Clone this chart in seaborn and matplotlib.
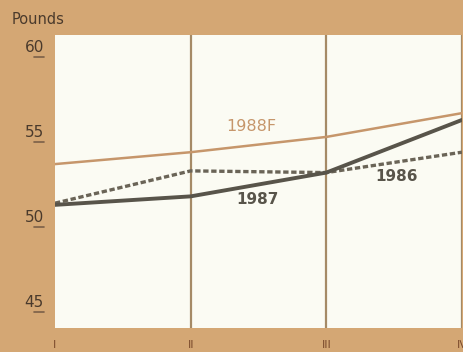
import matplotlib
matplotlib.use("Agg")
import matplotlib.pyplot as plt
import matplotlib.transforms as mtransforms
import seaborn as sns
import pandas as pd

# Quarterly values, pounds
quarters = ["I", "II", "III", "IV"]
y1986 = [51.4, 53.3, 53.2, 54.4]
y1987 = [51.3, 51.8, 53.2, 56.3]
y1988f = [53.7, 54.4, 55.3, 56.7]
y_ticks = [45, 50, 55, 60]

rows = []
for name, vals in (("1986", y1986), ("1987", y1987), ("1988F", y1988f)):
    for i, (q, v) in enumerate(zip(quarters, vals)):
        rows.append({"series": name, "x": i, "quarter": q, "value": v})
df = pd.DataFrame(rows)

sns.set_theme(style="white")
plt.rcParams["font.family"] = ["DejaVu Sans"]

bg = "#D4A774"
fig = plt.figure(figsize=(4.63, 3.52), dpi=100, facecolor=bg)
ax = fig.add_axes([55 / 463, 24 / 352, 407 / 463, 293 / 352])
ax.set_facecolor("#FBFBF3")

palette = {"1986": "#6A6457", "1987": "#58544A", "1988F": "#C6966B"}
sns.lineplot(data=df[df.series == "1988F"], x="x", y="value", ax=ax,
             color=palette["1988F"], linewidth=1.8, legend=False)
sns.lineplot(data=df[df.series == "1986"], x="x", y="value", ax=ax,
             color=palette["1986"], linewidth=2.4, linestyle=(0, (1.6, 0.8)),
             legend=False)
sns.lineplot(data=df[df.series == "1987"], x="x", y="value", ax=ax,
             color=palette["1987"], linewidth=2.8, legend=False)

ax.set_xlim(0, 3.0)
ax.set_ylim(44.05, 61.3)

# vertical rules at the quarter marks
for i in (1, 2, 3):
    ax.axvline(i, color="#A58A66", linewidth=1.6, zorder=0.5)

for s in ax.spines.values():
    s.set_visible(False)

ax.set_xticks(range(len(quarters)))
ax.set_xticklabels(quarters)
ax.tick_params(axis="x", length=0, pad=9, labelsize=8, labelcolor="#7A4A2C")
ax.set_yticks(y_ticks)
ax.set_yticklabels([str(t) for t in y_ticks])
ax.tick_params(axis="y", length=0, pad=8, labelsize=11, labelcolor="#4A3A2C")
shift = mtransforms.ScaledTranslation(0, 0.11, fig.dpi_scale_trans)
for lab in ax.get_yticklabels():
    lab.set_transform(lab.get_transform() + shift)

# short dashes under each value label
blend = mtransforms.blended_transform_factory(ax.transAxes, ax.transData)
for t in y_ticks:
    ax.plot([-0.052, -0.027], [t, t], transform=blend, color="#7A6048",
            linewidth=1.2, clip_on=False)

ax.set_xlabel("")
ax.set_ylabel("")
fig.text(12 / 463, 1 - 20 / 352, "Pounds", fontsize=10.5, color="#4A3A2C",
         va="center", ha="left")

ax.text(1.45, 55.9, "1988F", color="#C6966B", fontsize=11.5, ha="center", va="center")
ax.text(1.49, 51.6, "1987", color="#58544A", fontsize=11, fontweight="bold",
        ha="center", va="center")
ax.text(2.52, 52.95, "1986", color="#58544A", fontsize=11, fontweight="bold",
        ha="center", va="center")

fig.savefig("out.png", dpi=100, facecolor=bg)
